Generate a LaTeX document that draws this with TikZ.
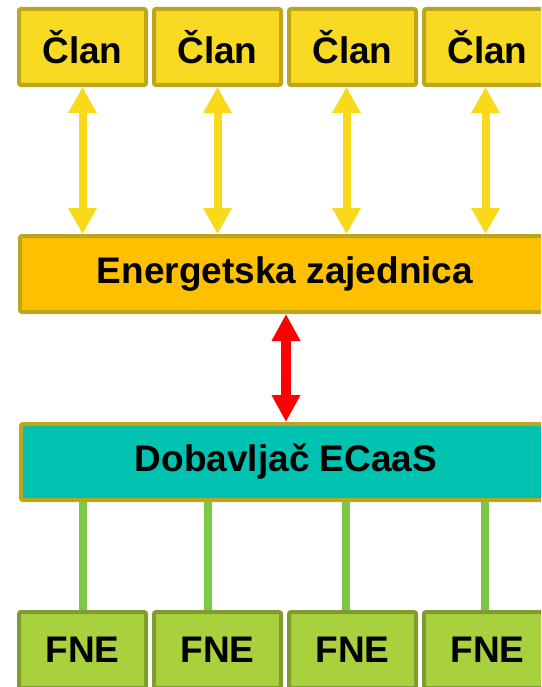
\documentclass[tikz,border=0pt]{standalone}
\usepackage{fontspec}
\setmainfont{Liberation Sans}
\usetikzlibrary{arrows.meta}

\definecolor{clanfill}{HTML}{F8DA23}
\definecolor{boxline}{HTML}{BDA51E}
\definecolor{zajfill}{HTML}{FFC000}
\definecolor{dobfill}{HTML}{00C2B0}
\definecolor{fnefill}{HTML}{A9D13E}
\definecolor{fneline}{HTML}{7F9C2E}
\definecolor{feedgreen}{HTML}{7CC846}
\definecolor{arrowyellow}{HTML}{F9DA1A}

\tikzset{
  box/.style={rectangle, rounded corners=2pt, line width=4pt, inner sep=0pt,
    font=\fontsize{37}{40}\selectfont\bfseries},
  clanbox/.style={box, draw=boxline, fill=clanfill, minimum width=127pt, minimum height=76pt},
  bigbox/.style={box, draw=boxline, minimum width=530pt, minimum height=76pt},
  fnebox/.style={box, draw=fneline, fill=fnefill, minimum width=127pt, minimum height=76pt},
  yellowlink/.style={draw=arrowyellow, line width=8pt,
    {Triangle[length=26pt,width=27pt]}-{Triangle[length=26pt,width=27pt]}},
  redlink/.style={draw=red, line width=10pt,
    {Triangle[length=27pt,width=27pt]}-{Triangle[length=27pt,width=27pt]}},
  feed/.style={draw=feedgreen, line width=8pt}
}

\begin{document}
\begin{tikzpicture}[x=1pt, y=-1pt]
            \clip (0,0) rectangle (541,687);

            \node [clanbox] (c1) at (82.5,47) {Član};
            \node [clanbox] (c2) at (217.5,47) {Član};
            \node [clanbox] (c3) at (352.5,47) {Član};
            \node [clanbox] (c4) at (487.5,47) {Član};

            \node [bigbox, fill=zajfill] (ez) at (285,274) {Energetska zajednica};
            \node [bigbox, fill=dobfill] (db) at (286,462) {Dobavljač ECaaS};

            \node [fnebox] (f1) at (82.5,650) {FNE};
            \node [fnebox] (f2) at (217.5,650) {FNE};
            \node [fnebox] (f3) at (352.5,650) {FNE};
            \node [fnebox] (f4) at (487.5,650) {FNE};

            % members <-> community
            \draw [yellowlink] (c1.south) -- (c1.south |- ez.north);
            \draw [yellowlink] (c2.south) -- (c2.south |- ez.north);
            \draw [yellowlink] ([xshift=-6pt]c3.south) -- ([xshift=-6pt]c3.south |- ez.north);
            \draw [yellowlink] ([xshift=-2pt]c4.south) -- ([xshift=-2pt]c4.south |- ez.north);

            \draw [redlink] (db.north |- ez.south) -- (db.north);

            % supplier -- plants
            \draw [feed] (f1.north |- db.south) -- (f1.north);
            \draw [feed] ([xshift=-9.5pt]f2.north |- db.south) -- ([xshift=-9.5pt]f2.north);
            \draw [feed] ([xshift=-6.5pt]f3.north |- db.south) -- ([xshift=-6.5pt]f3.north);
            \draw [feed] ([xshift=-2.5pt]f4.north |- db.south) -- ([xshift=-2.5pt]f4.north);
        \end{tikzpicture}
\end{document}
